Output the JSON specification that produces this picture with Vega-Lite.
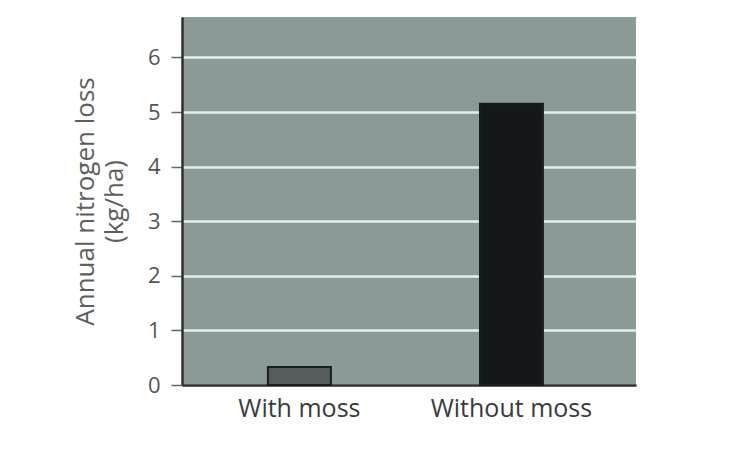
{
  "$schema": "https://vega.github.io/schema/vega-lite/v6.json",
  "autosize": "none",
  "width": 454,
  "height": 368,
  "padding": {"left": 182, "top": 17, "right": 120, "bottom": 87},
  "background": "white",
  "config": {
    "view": {"fill": "#8c9a97", "stroke": null},
    "font": "Open Sans"
  },
  "data": {
    "values": [
      {"condition": "With moss", "loss": 0.33},
      {"condition": "Without moss", "loss": 5.15}
    ]
  },
  "mark": {"type": "bar", "stroke": "#1a1d1e", "strokeWidth": 2},
  "encoding": {
    "x": {
      "field": "condition",
      "type": "nominal",
      "sort": null,
      "scale": {"paddingInner": 0.703, "paddingOuter": 0.422, "align": 0.48},
      "axis": {
        "title": null,
        "labelAngle": 0,
        "labelFontSize": 25,
        "labelColor": "#3a3a3a",
        "labelPadding": 11,
        "ticks": false,
        "domainColor": "#2b2f30",
        "domainWidth": 2.5,
        "grid": false
      }
    },
    "y": {
      "field": "loss",
      "type": "quantitative",
      "scale": {"domain": [0, 6.74], "nice": false, "zero": true},
      "axis": {
        "values": [0, 1, 2, 3, 4, 5, 6],
        "title": ["Annual nitrogen loss", "(kg/ha)"],
        "titleFontSize": 26,
        "titleFontWeight": "normal",
        "titleColor": "#5e5e5e",
        "titleLineHeight": 29,
        "titlePadding": 20,
        "labelFontSize": 22,
        "labelColor": "#555555",
        "labelPadding": 11,
        "tickSize": 11,
        "tickColor": "#666666",
        "tickWidth": 1.5,
        "domainColor": "#2b2f30",
        "domainWidth": 2.5,
        "grid": true,
        "gridColor": "#e6eeec",
        "gridWidth": 2.5,
        "gridOpacity": 1
      }
    },
    "color": {
      "field": "condition",
      "type": "nominal",
      "scale": {"domain": ["With moss", "Without moss"], "range": ["#575b5b", "#151819"]},
      "legend": null
    }
  }
}
